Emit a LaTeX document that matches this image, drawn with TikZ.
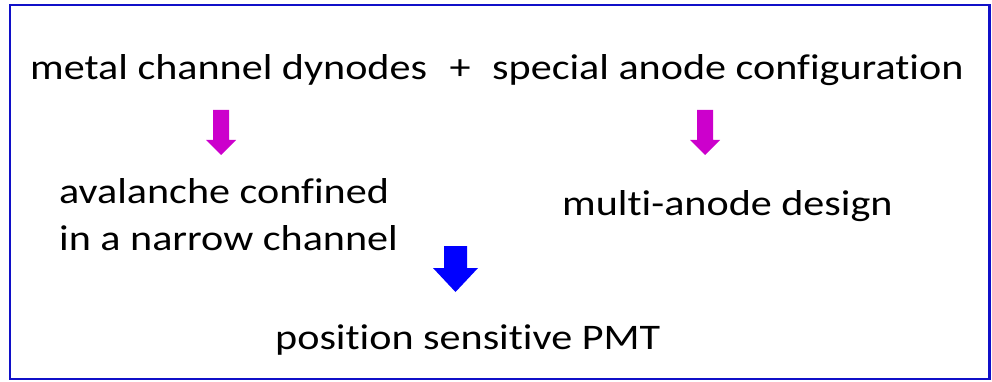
\documentclass[tikz,border=0pt]{standalone}
\usepackage{fontspec}
\setmainfont{Carlito}[Ligatures=NoCommon]
\usepackage{xcolor}
\usetikzlibrary{positioning}
\definecolor{framecol}{HTML}{1010C8}
\definecolor{stepmagenta}{HTML}{CC00CC}
\definecolor{stepblue}{HTML}{0000FF}
\tikzset{
  phrase/.style={inner sep=0pt,font=\fontsize{36}{46}\selectfont,anchor=base west},
  frameline/.style={draw=framecol,line width=2.6pt},
}
% wide text, as on the slide
\newcommand\wide[1]{\scalebox{1.17}[1]{#1}}
% block arrow pointing down: colour, centre x, top y, shaft half, head half, head base y, tip y
\newcommand\downblock[7]{%
  \fill[#1] (#2-#4,#3) -- (#2+#4,#3) -- (#2+#4,#6) -- (#2+#5,#6) -- (#2,#7)
    -- (#2-#5,#6) -- (#2-#4,#6) -- cycle;}

\begin{document}
\begin{tikzpicture}[x=1pt,y=1pt]
  \useasboundingbox (0,0) rectangle (992,-382);
  \draw[frameline] (10,-5) rectangle (989.5,-379);
  \node[phrase] (dyn) at (30,-80) {\wide{metal channel dynodes}};
  \node[phrase,anchor=base] (plus) at (460,-80) {\wide{+}};
  \node[phrase] (anode) at (492,-80) {\wide{special anode configuration}};
  \node[phrase] (aval) at (59,-204) {\wide{avalanche confined}};
  \node[phrase] (aval2) at (59,-250) {\wide{in a narrow channel}};
  \node[phrase] (multi) at (562,-215) {\wide{multi-anode design}};
  \node[phrase] (psd) at (275,-349) {\wide{position sensitive PMT}};
  \downblock{stepmagenta}{221}{-110}{8}{15}{-140}{-155}
  \downblock{stepmagenta}{705}{-110}{8}{15}{-140}{-155}
  \downblock{stepblue}{455.5}{-246}{11.5}{22.5}{-268}{-292}
\end{tikzpicture}
\end{document}
